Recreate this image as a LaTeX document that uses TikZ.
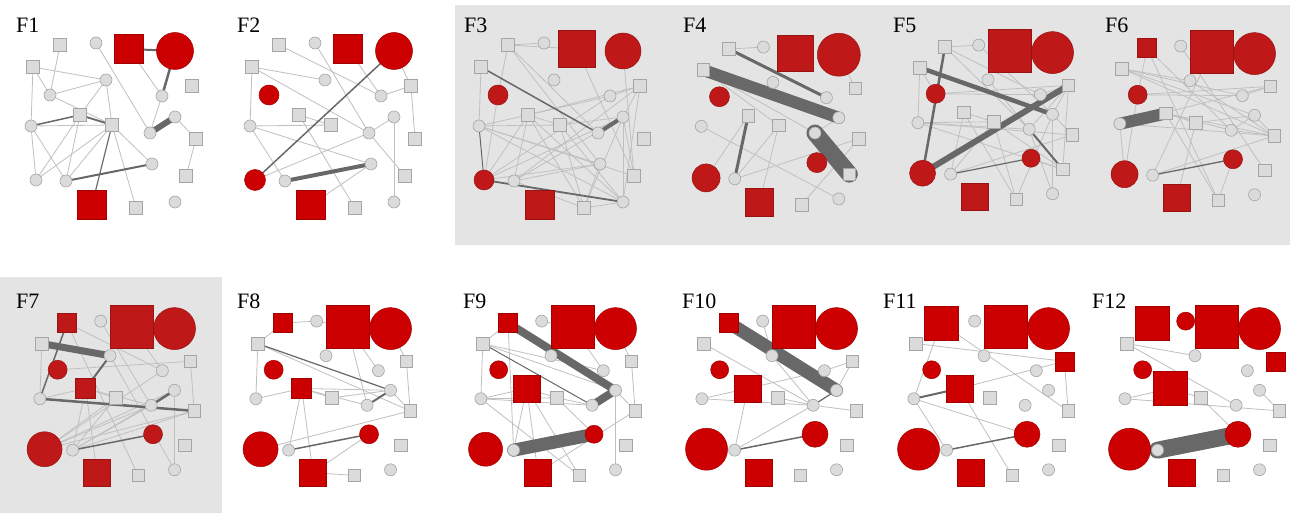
\documentclass[tikz,border=0pt]{standalone}
\usepackage{fontspec}
\setmainfont{Liberation Serif}
\pgfdeclarelayer{bg}
\pgfdeclarelayer{edges}
\pgfsetlayers{bg,edges,main}

\definecolor{panelgray}{RGB}{228,228,228}
\definecolor{nodegray}{RGB}{219,219,219}
\definecolor{nodeline}{RGB}{165,165,165}
\definecolor{liteedge}{RGB}{192,192,192}
\definecolor{darkedge}{RGB}{104,104,104}
\definecolor{redA}{RGB}{204,0,0}
\definecolor{redB}{RGB}{190,24,24}
\colorlet{rf}{redA}

\tikzset{
  gci/.style={circle, draw=nodeline, fill=nodegray, line width=0.6pt, inner sep=0pt, minimum size=12pt},
  gsq/.style={rectangle, draw=nodeline, fill=nodegray, line width=0.6pt, inner sep=0pt, minimum size=12.5pt},
  rci/.style={circle, draw=rf!80!black, fill=rf, line width=0.5pt, inner sep=0pt},
  rsq/.style={rectangle, draw=rf!80!black, fill=rf, line width=0.5pt, inner sep=0pt},
  lite/.style={draw=liteedge, line width=0.8pt},
  heavy/.style={draw=darkedge, line cap=round},
  lab/.style={anchor=base west, inner sep=0pt, font=\fontsize{22}{22}\selectfont}
}

% layout of the 22 vertices, relative to vertex A
\newcommand\place[4]{%
  \begin{scope}[shift={(#2,#3)},scale=#4]
    \foreach \n/\x/\y in {A/0/0,B/36/-2,C/69/4,D/115/6,E/-27/22,F/46/35,G/132/41,
      H/-10/50,I/102/51,J/20/70,K/115/72,L/-29/81,M/52/80,N/90/88,O/136/94,
      P/92/119,Q/126/131,R/-24/135,S/6/136,T/32/160,U/76/163,V/115/157}
      {\coordinate (c#1\n) at (\x,\y);}
  \end{scope}}
\newcommand\gcis[2]{\foreach \n in {#2}{\node[gci] (#1\n) at (c#1\n) {};}}
\newcommand\gsqs[2]{\foreach \n in {#2}{\node[gsq] (#1\n) at (c#1\n) {};}}
\newcommand\rcis[2]{\foreach \n/\sz in {#2}{\node[rci,minimum size=\sz pt] (#1\n) at (c#1\n) {};}}
\newcommand\rsqs[2]{\foreach \n/\sz in {#2}{\node[rsq,minimum size=\sz pt] (#1\n) at (c#1\n) {};}}
\newcommand\lite[2]{\begin{pgfonlayer}{edges}\foreach \p/\q in {#2}{\draw[lite] (#1\p.center) -- (#1\q.center);}\end{pgfonlayer}}
\newcommand\heavy[2]{\begin{pgfonlayer}{edges}\foreach \p/\q/\w in {#2}{\draw[heavy,line width=\w pt] (#1\p.center) -- (#1\q.center);}\end{pgfonlayer}}

\begin{document}
\begin{tikzpicture}[x=1pt,y=-1pt]
\useasboundingbox (0,0) rectangle (1290,513);
\begin{pgfonlayer}{bg}
  \fill[white] (0,0) rectangle (1290,513);
  \fill[panelgray] (455,5) rectangle (1290,245);
  \fill[panelgray] (0,277) rectangle (222,513);
\end{pgfonlayer}

% ---------- F1
\place{a}{60}{45}{1}
\gsqs{a}{A,E,G,J,M,O,Q,U}
\gcis{a}{B,F,H,I,K,L,N,P,R,S,V}
\rsqs{a}{C/29,T/29}
\rcis{a}{D/37}
\lite{a}{A/H,E/F,E/H,E/L,H/F,H/M,B/N,F/J,F/M,C/I,I/N,K/O,O/Q,L/M,J/R,J/S,M/R,M/S,M/P,M/U,L/R,L/S}
\heavy{a}{C/D/2,D/I/2.5,N/K/6,J/M/1.8,L/J/1.5,M/T/1.2,S/P/2}
\node[lab] (t1) at (16,33) {F1};

% ---------- F2
\place{b}{279}{45}{1}
\gsqs{b}{A,E,G,J,M,O,Q,U}
\gcis{b}{B,F,I,K,L,N,P,S,V}
\rsqs{b}{C/29,T/29}
\rcis{b}{D/37,H/20,R/21}
\lite{b}{A/I,B/N,C/I,D/G,G/I,G/O,E/F,E/L,E/N,J/M,J/U,L/M,L/P,L/S,R/N,N/K,N/Q,K/V,T/P}
\heavy{b}{D/R/1.5,S/P/4}
\node[lab] (t2) at (237,33) {F2};

% ---------- F3
\colorlet{rf}{redB}
\place{c}{508}{45}{1}
\gsqs{c}{A,E,G,J,M,O,Q,U}
\gcis{c}{B,F,I,K,L,N,P,S,V}
\rsqs{c}{C/37,T/29}
\rcis{c}{D/36,H/20,R/20}
\lite{c}{A/B,A/C,A/N,A/P,A/H,C/Q,D/Q,E/L,G/I,G/J,G/S,G/V,I/J,I/R,L/J,L/M,L/P,L/Q,L/V,H/R,J/M,J/R,J/S,J/U,J/V,M/K,M/V,M/U,R/K,R/P,S/P,S/K,S/U,U/K,U/V,K/Q,K/V,K/G,U/P}
\heavy{c}{E/N/1.5,N/K/4,R/V/1.8,L/R/1}
\node[lab] (t3) at (464,33) {F3};

% ---------- F4
\place{d}{729}{49}{0.955}
\gsqs{d}{A,E,G,J,M,O,Q,U}
\gcis{d}{B,F,I,K,L,N,S,V}
\rsqs{d}{C/36,T/28}
\rcis{d}{D/43,H/20,R/28,P/20}
\lite{d}{A/B,D/G,E/M,E/N,L/V,M/S,M/T,S/O,K/N,U/O,R/J}
\heavy{d}{A/I/3,E/K/12,N/Q/17,J/S/3}
\node[lab] (t4) at (683,33) {F4};

% ---------- F5
\place{e}{945}{47}{0.935}
\gsqs{e}{A,E,G,J,M,O,Q,U}
\gcis{e}{B,F,I,K,L,N,S,V}
\rsqs{e}{C/43,T/27}
\rcis{e}{D/42,H/19,R/26,P/18}
\lite{e}{A/B,A/N,A/I,E/L,E/H,H/G,H/I,L/M,L/N,L/O,L/Q,J/M,J/U,J/S,M/Q,M/S,M/U,I/G,G/K,G/N,G/Q,K/O,K/V,N/V,S/O,U/K,P/Q,F/Q,B/K}
\heavy{e}{A/R/2.5,E/K/4.5,R/G/6,N/Q/2,S/P/1.2}
\node[lab] (t5) at (893,33) {F5};

% ---------- F6
\place{f}{1147}{48}{0.935}
\gsqs{f}{E,G,J,M,O,Q,U}
\gcis{f}{B,F,I,K,L,N,S,V}
\rsqs{f}{A/19,C/43,T/27}
\rcis{f}{D/42,H/19,R/27,P/19}
\lite{f}{A/U,A/H,A/N,E/F,E/I,E/K,E/O,H/G,H/I,H/R,L/G,L/O,J/M,J/O,J/N,J/U,M/K,M/T,F/O,C/S,I/G,N/K,K/O,O/S,O/N,P/U,B/Q,L/R}
\heavy{f}{L/J/12,S/P/1.3}
\node[lab] (t6) at (1105,33) {F6};

% ---------- F7
\place{g}{67}{323}{0.935}
\gsqs{g}{E,G,M,O,Q,U}
\gcis{g}{B,F,I,K,L,N,S,V}
\rsqs{g}{A/19,C/43,J/20,T/27}
\rcis{g}{D/42,H/19,R/35,P/19}
\lite{g}{A/U,B/N,C/I,E/L,H/G,G/O,L/J,J/M,J/N,F/V,R/M,R/N,R/K,R/O,R/I,S/M,S/N,S/K,S/O,J/S,J/T,K/V,A/I}
\heavy{g}{E/F/7,A/L/1.5,F/J/2,L/O/2.5,N/K/2.5,S/P/1.5}
\node[lab] (t7) at (16,308) {F7};

% ---------- F8
\colorlet{rf}{redA}
\place{h}{283}{323}{0.935}
\gsqs{h}{E,G,M,O,Q,U}
\gcis{h}{B,F,I,K,L,N,S,V}
\rsqs{h}{A/19,C/43,J/20,T/27}
\rcis{h}{D/42,H/19,R/35,P/19}
\lite{h}{A/B,A/E,B/C,C/I,C/N,D/G,G/O,E/L,E/O,L/J,J/M,J/K,J/S,J/T,M/K,R/O,T/U,T/P,K/O,J/N}
\heavy{h}{E/K/1.2,N/K/2,S/P/1.5}
\node[lab] (t8) at (237,308) {F8};

% ---------- F9
\place{i}{508}{323}{0.935}
\gsqs{i}{E,G,M,O,Q,U}
\gcis{i}{B,F,I,K,L,N,S,V}
\rsqs{i}{A/19,C/43,J/27,T/27}
\rcis{i}{D/42,H/18,R/34,P/18}
\lite{i}{A/E,A/S,B/C,C/I,D/G,G/O,E/L,E/K,L/J,L/M,L/N,L/U,J/M,J/S,J/U,J/T,M/N,M/P,T/O,K/O,K/V,E/I}
\heavy{i}{E/N/1,A/K/8,N/K/8,S/P/13}
\node[lab] (t9) at (463,308) {F9};

% ---------- F10
\place{j}{729}{323}{0.935}
\gsqs{j}{E,G,M,O,Q,U}
\gcis{j}{B,F,I,K,L,N,S,V}
\rsqs{j}{A/19,C/43,J/27,T/27}
\rcis{j}{D/42,H/18,R/42,P/26}
\lite{j}{E/N,L/J,L/N,J/I,I/G,K/G,F/N,B/F,M/N,N/O,N/S,J/S}
\heavy{j}{A/K/13,N/K/1.2,S/P/1.5}
\node[lab] (t10) at (682,308) {F10};

% ---------- F11
\place{k}{941}{323}{0.935}
\gsqs{k}{E,M,O,Q,U}
\gcis{k}{B,F,I,K,L,N,S,V}
\rsqs{k}{A/34,C/43,G/19,J/27,T/27}
\rcis{k}{D/42,H/18,R/42,P/26}
\lite{k}{E/G,A/O,A/L,J/G,G/O,L/P,L/S,J/U}
\heavy{k}{L/J/2,S/P/1.5}
\node[lab] (t11) at (883,308) {F11};

% ---------- F12
\place{l}{1152}{323}{0.935}
\gsqs{l}{E,M,O,Q,U}
\gcis{l}{F,I,K,L,N,S,V}
\rsqs{l}{A/34,C/43,G/19,J/34,T/27}
\rcis{l}{B/18,D/42,H/18,R/42,P/26}
\lite{l}{E/F,E/N,L/J,L/O,J/M,M/P,K/O}
\heavy{l}{S/P/17}
\node[lab] (t12) at (1092,308) {F12};
\end{tikzpicture}
\end{document}
